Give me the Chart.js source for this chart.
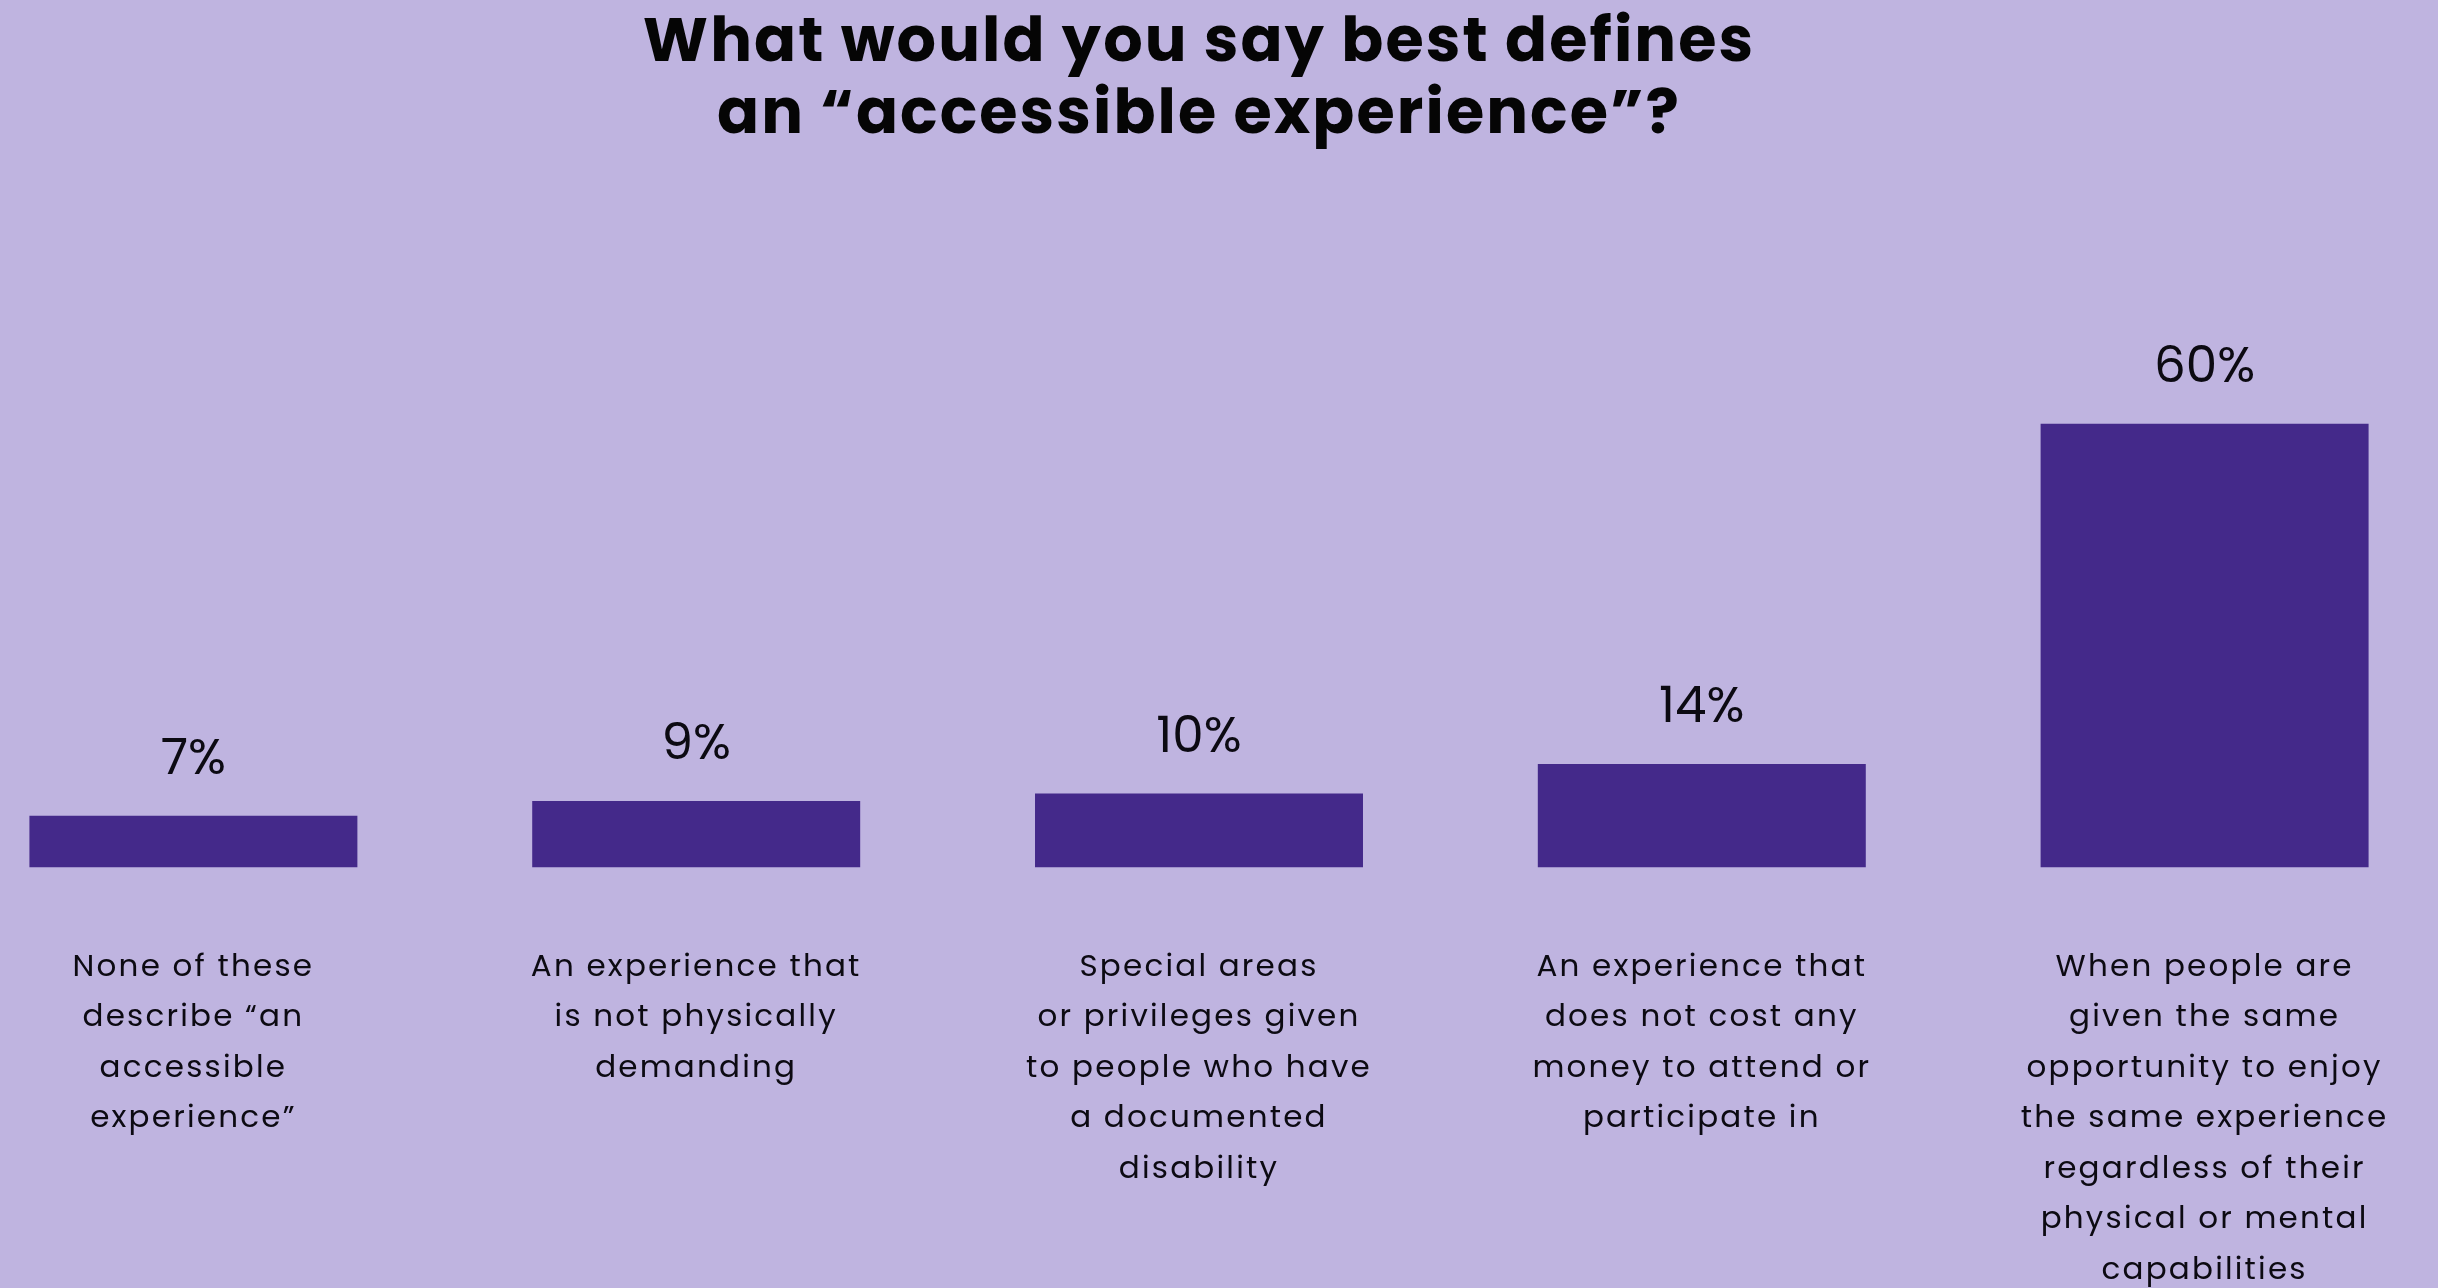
<!DOCTYPE html>
<html>
<head>
<meta charset="utf-8">
<script src="https://cdn.jsdelivr.net/npm/chart.js@4/dist/chart.umd.min.js"></script>
<style>
  html, body { margin: 0; padding: 0; background: #BFB4E0; overflow: hidden; width: 2438px; height: 1288px; }
  #wrap { position: absolute; left: -58.4px; top: 0; width: 2514px; height: 1371px; }
</style>
</head>
<body>
<div id="wrap"><canvas id="c"></canvas></div>
<script>
const titleLines = ["What would you say best defines", "an “accessible experience”?"];
const categories = [
  ["None of these", "describe “an", "accessible", "experience”"],
  ["An experience that", "is not physically", "demanding"],
  ["Special areas", "or privileges given", "to people who have", "a documented", "disability"],
  ["An experience that", "does not cost any", "money to attend or", "participate in"],
  ["When people are", "given the same", "opportunity to enjoy", "the same experience", "regardless of their", "physical or mental", "capabilities"]
];
const values = [7, 9, 10, 14, 60];
const yMax = 70;

const BAR = '#44298A';
const TEXT = '#0c0a12';
const FONT = "Poppins, 'Open Sans', sans-serif";

const spacing = {
  id: 'spacing',
  beforeDraw(chart) { chart.ctx.letterSpacing = '2.1px'; },
  beforeDatasetsDraw(chart) { chart.ctx.letterSpacing = '0px'; },
  afterDatasetsDraw(chart) {
    const ctx = chart.ctx;
    const meta = chart.getDatasetMeta(0);
    ctx.save();
    ctx.letterSpacing = '0px';
    ctx.font = "400 50px " + FONT;
    ctx.fillStyle = TEXT;
    ctx.textAlign = 'center';
    ctx.textBaseline = 'alphabetic';
    meta.data.forEach((bar, i) => {
      ctx.fillText(values[i] + '%', bar.x, bar.y - 42);
    });
    ctx.restore();
    ctx.letterSpacing = '2.2px';
  },
  afterDraw(chart) { chart.ctx.letterSpacing = '0px'; }
};

new Chart(document.getElementById('c'), {
  type: 'bar',
  data: {
    labels: categories,
    datasets: [{ data: values, backgroundColor: BAR, borderWidth: 0, categoryPercentage: 1, barPercentage: 0.6523 }]
  },
  options: {
    responsive: true,
    maintainAspectRatio: false,
    animation: false,
    layout: { padding: { top: 0, bottom: 0, left: 0, right: 0 } },
    plugins: {
      legend: { display: false },
      tooltip: { enabled: false },
      title: {
        display: true,
        text: titleLines,
        color: '#050505',
        font: { family: FONT, size: 62, weight: '700', lineHeight: 1.16 },
        padding: { top: 10, bottom: 196 }
      }
    },
    scales: {
      x: {
        grid: { display: false, drawTicks: false },
        border: { display: false },
        ticks: {
          z: 1,
          color: TEXT,
          autoSkip: false,
          maxRotation: 0,
          minRotation: 0,
          padding: 75,
          font: { family: FONT, size: 31, weight: '400', lineHeight: 1.629 }
        }
      },
      y: {
        display: false,
        min: 0,
        max: yMax,
        grid: { display: false }
      }
    }
  },
  plugins: [spacing]
});
</script>
</body>
</html>
